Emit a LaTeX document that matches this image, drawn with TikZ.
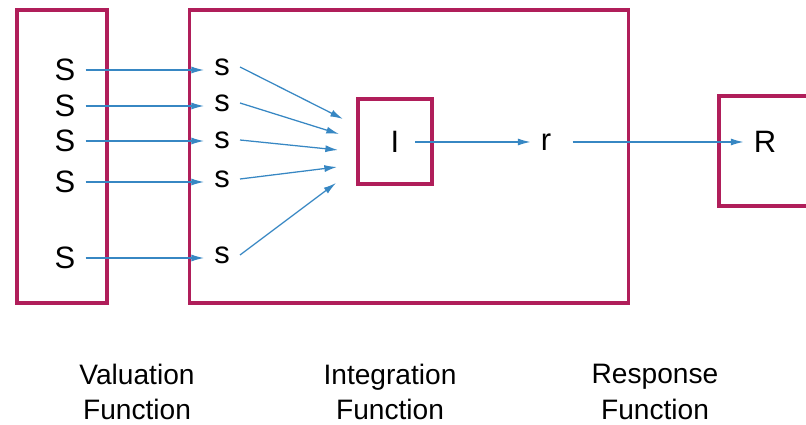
\documentclass[tikz,border=0pt]{standalone}
\usepackage{fontspec}
\setmainfont{Liberation Sans}
\usetikzlibrary{positioning,arrows.meta}
\definecolor{boxred}{RGB}{176,30,90}
\definecolor{arrowblue}{RGB}{55,135,195}
\tikzset{
    block/.style = {
        draw=boxred,
        shape=rectangle,
        line width=2.2pt,
        inner sep=0pt
    },
    sig/.style = {
        shape=rectangle,
        inner sep=0.25cm,
        font=\fontsize{22}{22}\selectfont
    },
    caption/.style = {
        align=center,
        font=\fontsize{20}{25}\selectfont
    },
    link/.style = {
        draw=arrowblue,
        line width=0.9pt,
        ->
    },
    >={Latex[length=9pt,width=5pt]},
}

\begin{document}
\begin{tikzpicture}[x=0.025cm, y=-0.025cm]
        \clip (0,0) rectangle (806,425);
        % boxes
        \node[block, minimum width=2.25cm, minimum height=7.325cm] (val) at (62,156.5) {};
        \node[block, minimum width=10.95cm, minimum height=7.325cm] (integ) at (409,156.5) {};
        \node[block, minimum width=1.85cm, minimum height=2.125cm] (ibox) at (395,141.5) {};
        \node[block, minimum width=3.5cm, minimum height=2.75cm] (rbox) at (789,151) {};

        % stimuli and scale values
        \node[sig] (S1) at (65,70) {S};
        \node[sig] (S2) at (65,106) {S};
        \node[sig] (S3) at (65,141) {S};
        \node[sig] (S4) at (65,182) {S};
        \node[sig] (S5) at (65,258) {S};
        \node[sig] (s1) at (222,67) {s};
        \node[sig] (s2) at (222,103) {s};
        \node[sig] (s3) at (222,140) {s};
        \node[sig] (s4) at (222,179) {s};
        \node[sig] (s5) at (222,255) {s};
        \node[sig] (I) at (395,142) {I};
        \node[sig] (r) at (546,142) {r};
        \node[sig] (R) at (765,142) {R};

        \coordinate (in1) at (343,119);
        \coordinate (in2) at (339,134);
        \coordinate (in3) at (338,150);
        \coordinate (in4) at (337,167);
        \coordinate (in5) at (336,183);

        \path[link] (S1.east) -- (s1.west |- S1.east);
        \path[link] (S2.east) -- (s2.west |- S2.east);
        \path[link] (S3.east) -- (s3.west |- S3.east);
        \path[link] (S4.east) -- (s4.west |- S4.east);
        \path[link] (S5.east) -- (s5.west |- S5.east);

        \path[link] (s1.east) -- (in1);
        \path[link] (s2.east) -- (in2);
        \path[link] (s3.east) -- (in3);
        \path[link] (s4.east) -- (in4);
        \path[link] (s5.east) -- (in5);

        \path[link, shorten <=4pt] (I) -- (r);
        \path[link, shorten <=8pt] (r) -- (R);

        % captions
        \node[caption] (valcap) at (137,392) {Valuation\\Function};
        \node[caption] (intcap) at (390,392) {Integration\\Function};
        \node[caption] (rescap) at (655,392) {Response\\Function};
    \end{tikzpicture}
\end{document}
